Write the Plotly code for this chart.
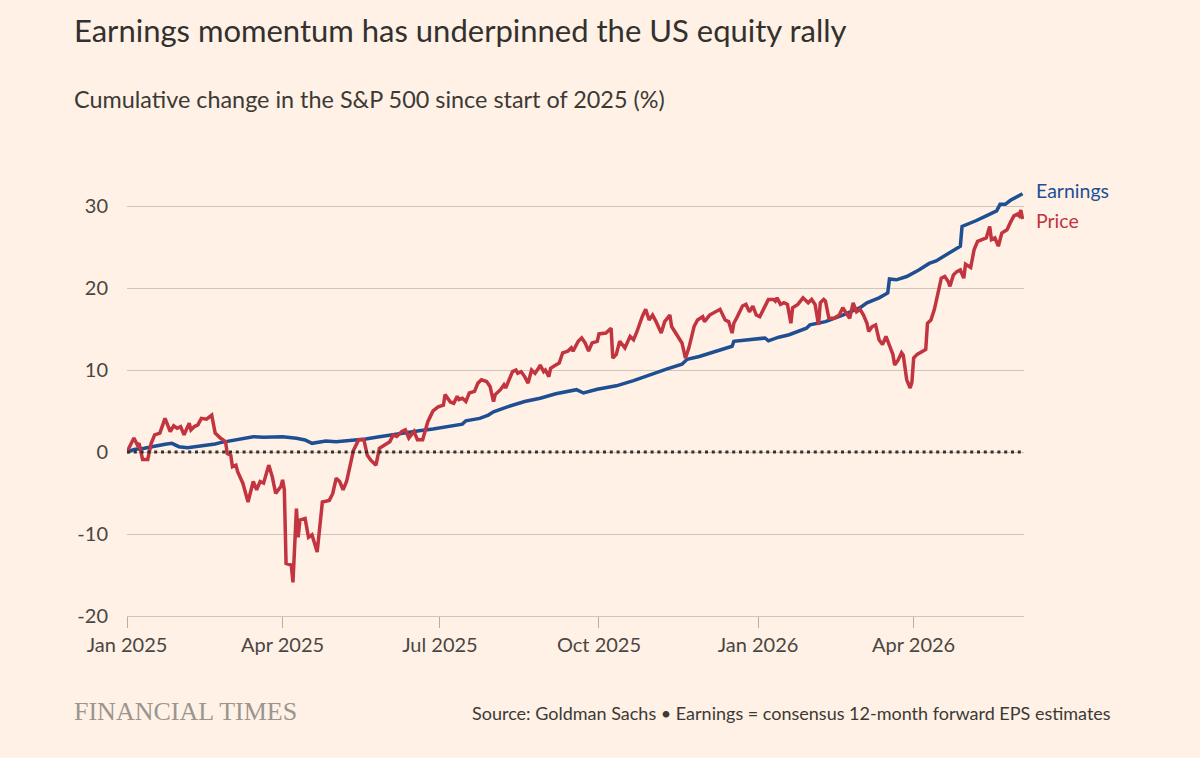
import plotly.graph_objects as go
import pandas as pd

# ---------------- data ----------------
price_dates = [
    "2025-01-01", "2025-01-05", "2025-01-07", "2025-01-08", "2025-01-10", "2025-01-13", "2025-01-15",
    "2025-01-17", "2025-01-20", "2025-01-23", "2025-01-26", "2025-01-28", "2025-01-30", "2025-02-01",
    "2025-02-03", "2025-02-06", "2025-02-07", "2025-02-09", "2025-02-11", "2025-02-13", "2025-02-16",
    "2025-02-19", "2025-02-21", "2025-02-24", "2025-02-27", "2025-02-28", "2025-03-02", "2025-03-03",
    "2025-03-05", "2025-03-06", "2025-03-09", "2025-03-11", "2025-03-12", "2025-03-15", "2025-03-17",
    "2025-03-19", "2025-03-21", "2025-03-24", "2025-03-26", "2025-03-28", "2025-03-31", "2025-04-01",
    "2025-04-02", "2025-04-03", "2025-04-06", "2025-04-07", "2025-04-09", "2025-04-10", "2025-04-11",
    "2025-04-14", "2025-04-16", "2025-04-18", "2025-04-21", "2025-04-24", "2025-04-28", "2025-04-30",
    "2025-05-02", "2025-05-04", "2025-05-06", "2025-05-08", "2025-05-12", "2025-05-15", "2025-05-18",
    "2025-05-20", "2025-05-22", "2025-05-25", "2025-05-27", "2025-05-30", "2025-06-02", "2025-06-04",
    "2025-06-06", "2025-06-09", "2025-06-11", "2025-06-13", "2025-06-16", "2025-06-18", "2025-06-21",
    "2025-06-24", "2025-06-27", "2025-06-30", "2025-07-03", "2025-07-04", "2025-07-07", "2025-07-09",
    "2025-07-11", "2025-07-12", "2025-07-14", "2025-07-16", "2025-07-18", "2025-07-21", "2025-07-23",
    "2025-07-25", "2025-07-28", "2025-07-30", "2025-08-01", "2025-08-02", "2025-08-05", "2025-08-07",
    "2025-08-08", "2025-08-12", "2025-08-14", "2025-08-15", "2025-08-17", "2025-08-19", "2025-08-21",
    "2025-08-23", "2025-08-25", "2025-08-27", "2025-08-28", "2025-08-30", "2025-08-31", "2025-09-02",
    "2025-09-03", "2025-09-06", "2025-09-08", "2025-09-10", "2025-09-13", "2025-09-15", "2025-09-16",
    "2025-09-19", "2025-09-21", "2025-09-23", "2025-09-25", "2025-09-27", "2025-09-30", "2025-10-01",
    "2025-10-05", "2025-10-08", "2025-10-09", "2025-10-11", "2025-10-13", "2025-10-16", "2025-10-19",
    "2025-10-21", "2025-10-23", "2025-10-26", "2025-10-28", "2025-10-30", "2025-11-01", "2025-11-03",
    "2025-11-05", "2025-11-06", "2025-11-08", "2025-11-11", "2025-11-12", "2025-11-15", "2025-11-18",
    "2025-11-20", "2025-11-22", "2025-11-25", "2025-11-27", "2025-11-30", "2025-12-01", "2025-12-04",
    "2025-12-07", "2025-12-10", "2025-12-13", "2025-12-15", "2025-12-17", "2025-12-18", "2025-12-20",
    "2025-12-23", "2025-12-25", "2025-12-27", "2025-12-29", "2025-12-31", "2026-01-02", "2026-01-05",
    "2026-01-07", "2026-01-10", "2026-01-11", "2026-01-12", "2026-01-14", "2026-01-16", "2026-01-18",
    "2026-01-20", "2026-01-21", "2026-01-24", "2026-01-27", "2026-01-30", "2026-02-01", "2026-02-03",
    "2026-02-05", "2026-02-06", "2026-02-08", "2026-02-09", "2026-02-11", "2026-02-14", "2026-02-17",
    "2026-02-19", "2026-02-21", "2026-02-23", "2026-02-25", "2026-02-27", "2026-03-01", "2026-03-03",
    "2026-03-05", "2026-03-06", "2026-03-08", "2026-03-10", "2026-03-12", "2026-03-14", "2026-03-16",
    "2026-03-18", "2026-03-20", "2026-03-21", "2026-03-23", "2026-03-25", "2026-03-26", "2026-03-28",
    "2026-03-30", "2026-03-31", "2026-04-01", "2026-04-03", "2026-04-06", "2026-04-08", "2026-04-09",
    "2026-04-11", "2026-04-13", "2026-04-15", "2026-04-17", "2026-04-19", "2026-04-21", "2026-04-22",
    "2026-04-24", "2026-04-26", "2026-04-28", "2026-04-30", "2026-05-01", "2026-05-04", "2026-05-06",
    "2026-05-08", "2026-05-11", "2026-05-13", "2026-05-15", "2026-05-16", "2026-05-18", "2026-05-20",
    "2026-05-22", "2026-05-25", "2026-05-27", "2026-05-29", "2026-05-31", "2026-06-01", "2026-06-02",
    "2026-06-03",
]
price_values = [
    0.0, 1.7, 0.85, 1.06, -0.9, -0.9, 1.06,
    2.08, 2.3, 4.1, 2.5, 3.2, 2.9, 3.1,
    2.1, 3.5, 2.7, 3.1, 3.3, 4.1, 4.0,
    4.5, 2.3, 1.7, 1.26, -0.2, -0.4, -1.8,
    -1.6, -2.4, -3.8, -5.5, -6.1, -3.6, -4.6,
    -3.6, -3.8, -1.6, -3.0, -5.05, -4.2, -3.4,
    -4.6, -13.6, -13.8, -15.9, -6.9, -10.4, -8.3,
    -8.1, -10.4, -10.1, -12.2, -6.1, -5.9, -5.05,
    -3.2, -3.6, -4.6, -3.6, 0.2, 1.5, 1.5,
    -0.4, -1.0, -1.6, 0.45, 0.85, 1.26, 2.08,
    1.9, 2.5, 2.7, 1.7, 2.5, 1.5, 1.5,
    3.7, 5.0, 5.5, 5.7, 7.0, 6.1, 5.95,
    6.8, 6.4, 6.55, 6.15, 7.2, 7.4, 8.4,
    8.8, 8.6, 8.0, 6.15, 7.0, 7.6, 8.2,
    7.8, 9.8, 10.0, 9.6, 9.8, 9.2, 8.4,
    10.0, 9.6, 10.2, 10.6, 9.8, 10.0, 9.2,
    10.2, 10.6, 10.85, 12.1, 12.3, 12.7, 12.3,
    13.5, 13.9, 13.3, 12.3, 13.3, 13.5, 14.4,
    14.5, 15.1, 11.45, 11.9, 13.5, 12.7, 14.1,
    13.7, 14.7, 16.5, 17.4, 16.1, 16.7, 15.9,
    15.1, 14.5, 15.9, 16.7, 15.3, 14.3, 13.3,
    11.45, 12.7, 15.3, 16.1, 16.5, 15.9, 16.7,
    17.1, 17.4, 16.1, 15.9, 14.5, 15.7, 16.5,
    17.8, 18.0, 17.1, 17.8, 16.7, 16.5, 17.8,
    18.6, 18.6, 18.4, 18.8, 18.0, 18.2, 18.0,
    15.7, 17.6, 18.0, 18.8, 18.2, 18.6, 18.0,
    15.5, 18.2, 18.6, 18.4, 16.3, 16.3, 16.7,
    17.6, 16.95, 16.3, 18.2, 17.1, 17.4, 16.7,
    15.7, 14.7, 15.3, 15.5, 13.7, 13.1, 14.1,
    12.9, 11.9, 10.6, 11.2, 12.1, 11.8, 8.8,
    7.8, 8.5, 11.45, 11.9, 12.3, 12.5, 15.7,
    16.1, 17.4, 19.4, 21.2, 21.4, 20.8, 20.2,
    21.6, 22.0, 22.2, 21.2, 22.9, 22.5, 24.7,
    25.7, 25.9, 26.1, 27.5, 25.9, 26.1, 25.1,
    26.7, 27.1, 28.0, 28.8, 29.0, 28.8, 29.5,
    28.4,
]

eps_dates = [
    "2025-01-01", "2025-01-05", "2025-01-11", "2025-01-16", "2025-01-19", "2025-01-23", "2025-01-27",
    "2025-01-31", "2025-02-05", "2025-02-10", "2025-02-16", "2025-02-21", "2025-02-24", "2025-02-27",
    "2025-03-03", "2025-03-09", "2025-03-15", "2025-03-21", "2025-03-27", "2025-04-01", "2025-04-09",
    "2025-04-14", "2025-04-18", "2025-04-22", "2025-04-26", "2025-05-02", "2025-05-10", "2025-05-19",
    "2025-05-27", "2025-06-04", "2025-06-11", "2025-06-19", "2025-06-27", "2025-07-07", "2025-07-14",
    "2025-07-16", "2025-07-24", "2025-07-29", "2025-08-01", "2025-08-09", "2025-08-19", "2025-08-28",
    "2025-09-06", "2025-09-18", "2025-09-22", "2025-09-30", "2025-10-11", "2025-10-21", "2025-10-30",
    "2025-11-09", "2025-11-18", "2025-11-21", "2025-11-28", "2025-12-08", "2025-12-17", "2025-12-18",
    "2025-12-27", "2026-01-05", "2026-01-07", "2026-01-13", "2026-01-19", "2026-01-29", "2026-01-31",
    "2026-02-09", "2026-02-19", "2026-03-01", "2026-03-05", "2026-03-12", "2026-03-17", "2026-03-18",
    "2026-03-22", "2026-03-28", "2026-04-04", "2026-04-10", "2026-04-14", "2026-04-20", "2026-04-25",
    "2026-04-28", "2026-04-29", "2026-05-03", "2026-05-07", "2026-05-13", "2026-05-19", "2026-05-21",
    "2026-05-24", "2026-05-27", "2026-05-31", "2026-06-03",
]
eps_values = [
    0.0, 0.3, 0.45, 0.65, 0.85, 0.95, 1.06,
    0.65, 0.53, 0.65, 0.77, 0.98, 1.14, 1.26,
    1.47, 1.67, 1.87, 1.79, 1.87, 1.87, 1.67,
    1.47, 1.06, 1.18, 1.34, 1.26, 1.38, 1.59,
    1.87, 2.15, 2.3, 2.6, 2.8, 3.2, 3.4,
    3.8, 4.1, 4.5, 4.9, 5.5, 6.15, 6.55,
    7.1, 7.6, 7.2, 7.65, 8.07, 8.7, 9.4,
    10.1, 10.7, 11.3, 11.65, 12.3, 12.9, 13.5,
    13.7, 13.9, 13.55, 14.0, 14.3, 15.1, 15.5,
    15.9, 16.7, 17.6, 18.2, 18.8, 19.4, 21.1,
    21.0, 21.4, 22.2, 23.0, 23.3, 24.1, 24.7,
    25.1, 27.5, 27.8, 28.2, 28.8, 29.4, 30.2,
    30.2, 30.7, 31.1, 31.5,
]

y_ticks = [-20, -10, 0, 10, 20, 30]
y_tick_labels = ["-20", "-10", "0", "10", "20", "30"]
x_tick_dates = ["2025-01-01", "2025-04-01", "2025-07-01", "2025-10-01", "2026-01-01", "2026-04-01"]
x_tick_labels = ["Jan 2025", "Apr 2025", "Jul 2025", "Oct 2025", "Jan 2026", "Apr 2026"]

# ---------------- styling ----------------
BG = "#FFF1E5"
BLUE = "#1f4f93"
RED = "#c2343f"
GRID = "#d0c5ba"
TEXT = "#33302e"
FONT = "Lato"
LEFT = (72 - 127) / 897  # left text edge in paper units

fig = go.Figure()
fig.add_trace(go.Scatter(x=pd.to_datetime(eps_dates), y=eps_values, mode="lines",
                         line=dict(color=BLUE, width=3.5), name="Earnings",
                         hoverinfo="skip"))
fig.add_trace(go.Scatter(x=pd.to_datetime(price_dates), y=price_values, mode="lines",
                         line=dict(color=RED, width=3.5), name="Price",
                         hoverinfo="skip"))

# dotted zero line
fig.add_shape(type="line", xref="paper", yref="y", x0=0, x1=1, y0=0, y1=0,
              line=dict(color=TEXT, width=2.8, dash="3px,3.8px"), layer="above")

fig.update_layout(
    width=1200, height=758,
    paper_bgcolor=BG, plot_bgcolor=BG,
    margin=dict(l=127, r=176, t=170, b=142),
    showlegend=False,
    font=dict(family=FONT, color=TEXT),
)
fig.update_xaxes(
    type="date",
    range=["2025-01-01", "2026-06-03 20:00"],
    tickvals=pd.to_datetime(x_tick_dates), ticktext=x_tick_labels,
    showgrid=False, zeroline=False,
    showline=True, linecolor=GRID, linewidth=1,
    ticks="outside", ticklen=11, tickcolor="#b9aea4", tickwidth=1,
    tickfont=dict(size=20, color="#4a4643", family=FONT),
)
fig.update_yaxes(
    range=[-20, 34.39],
    tickvals=y_ticks, ticktext=y_tick_labels,
    showgrid=True, gridcolor=GRID, gridwidth=1,
    zeroline=False, showline=False, ticks="",
    tickfont=dict(size=20, color="#4a4643", family=FONT),
    ticklabelstandoff=18,
)

# title / subtitle
fig.add_annotation(text="Earnings momentum has underpinned the US equity rally",
                   xref="paper", yref="paper", x=LEFT, y=(616 - 30) / 446,
                   xanchor="left", yanchor="middle", showarrow=False,
                   font=dict(size=31, color=TEXT, family=FONT))
fig.add_annotation(text="Cumulative change in the S&P 500 since start of 2025 (%)",
                   xref="paper", yref="paper", x=LEFT, y=(616 - 99) / 446,
                   xanchor="left", yanchor="middle", showarrow=False,
                   font=dict(size=23.4, color="#3d3935", family=FONT))

# direct labels
fig.add_annotation(text="Earnings", xref="paper", yref="y", x=1, y=eps_values[-1] + 0.45,
                   xanchor="left", yanchor="middle", xshift=10, showarrow=False,
                   font=dict(size=19.5, color=BLUE, family=FONT))
fig.add_annotation(text="Price", xref="paper", yref="y", x=1, y=price_values[-1] - 0.2,
                   xanchor="left", yanchor="middle", xshift=10, showarrow=False,
                   font=dict(size=19.5, color=RED, family=FONT))

# footer
fig.add_annotation(text="FINANCIAL TIMES", xref="paper", yref="paper",
                   x=LEFT, y=(616 - 711) / 446,
                   xanchor="left", yanchor="middle", showarrow=False,
                   font=dict(size=26, color="#9b9590", family="Liberation Serif"))
fig.add_annotation(text="Source: Goldman Sachs \u2022 Earnings = consensus 12-month forward EPS estimates",
                   xref="paper", yref="paper", x=(1113 - 127) / 897, y=(616 - 713) / 446,
                   xanchor="right", yanchor="middle", showarrow=False,
                   font=dict(size=18, color="#3d3935", family=FONT))

fig.write_html("out.html")
